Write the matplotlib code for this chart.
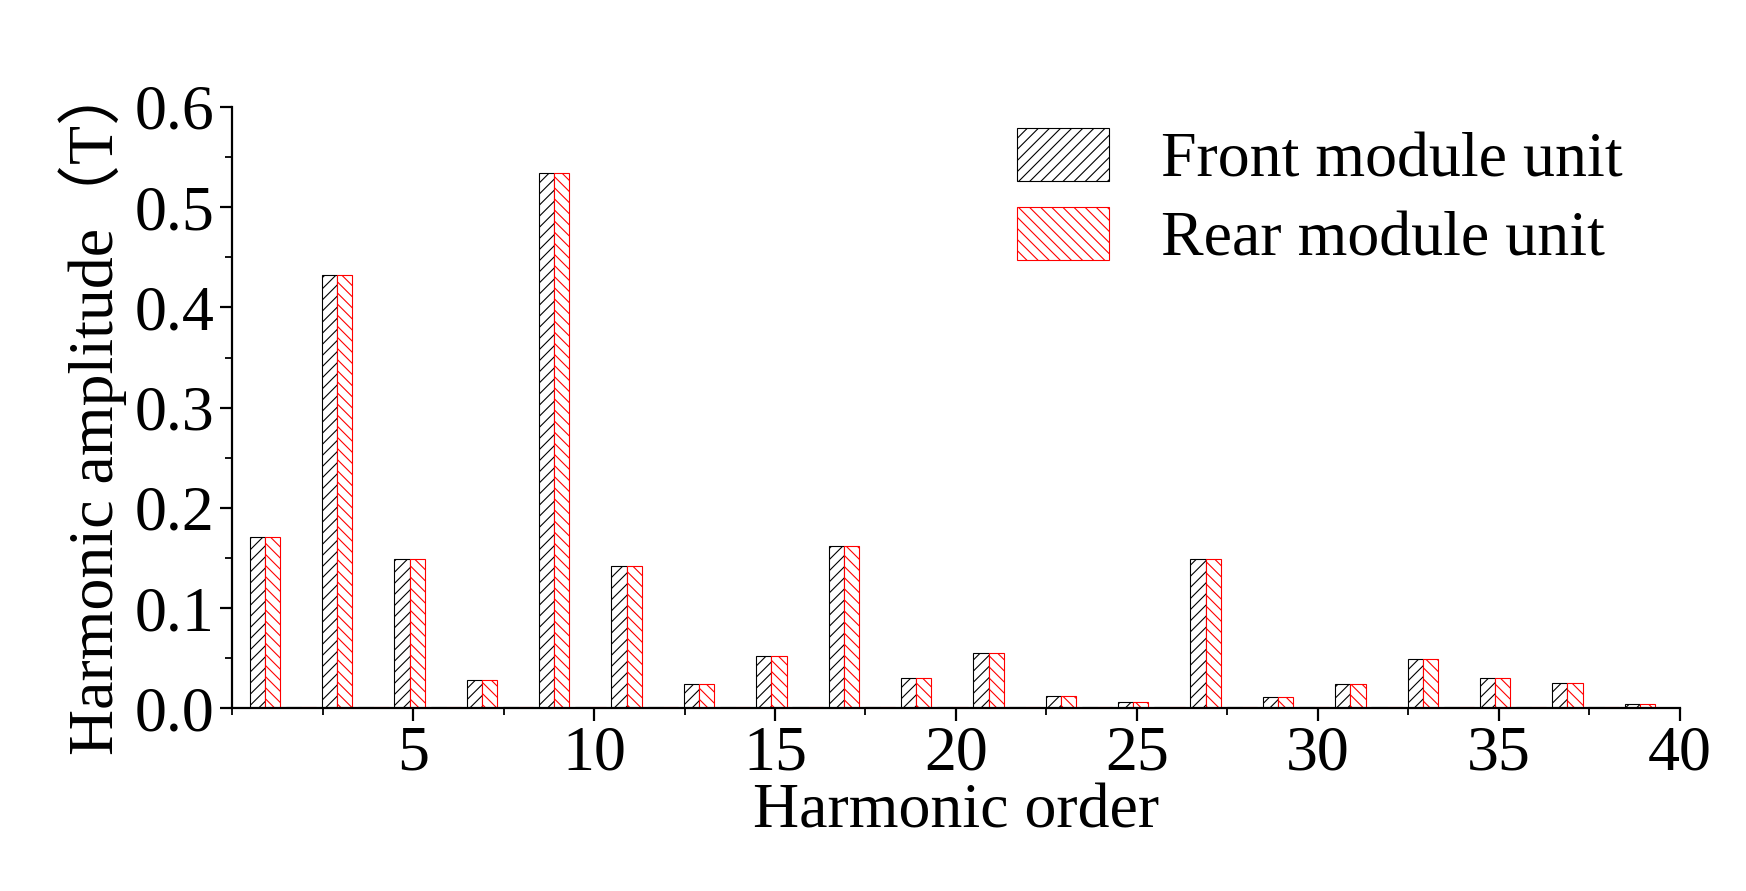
import matplotlib
matplotlib.use("Agg")
import matplotlib.pyplot as plt
import numpy as np
from matplotlib.ticker import MultipleLocator

plt.rcParams['font.family'] = ['Liberation Serif', 'DejaVu Serif']
plt.rcParams['hatch.linewidth'] = 0.8

orders = list(range(1, 40))
front = [0.171,0.001,0.432,0.001,0.149,0.001,0.028,0.001,0.534,0.001,0.142,0.001,0.024,0.001,0.052,0.001,0.162,0.001,0.030,0.001,
         0.055,0.001,0.012,0.001,0.006,0.001,0.149,0.001,0.011,0.001,0.024,0.001,0.049,0.001,0.030,0.001,0.025,0.001,0.004]
rear = list(front)

fig = plt.figure(figsize=(17.46, 8.91), dpi=100)
ax = fig.add_axes([0.133, 0.205, 0.829, 0.675])
x = np.array(orders)
w = 0.42
ax.bar(x - w/2 - 0.1, front, w, facecolor='white', edgecolor='black', hatch='///', linewidth=0.8, label='Front module unit')
ax.bar(x + w/2 - 0.1, rear, w, facecolor='white', edgecolor='red', hatch='\\\\\\', linewidth=0.8, label='Rear module unit')
ax.set_xlim(0, 40)
ax.set_ylim(0, 0.6)
ax.set_xticks([5,10,15,20,25,30,35,40])
ax.xaxis.set_minor_locator(MultipleLocator(2.5))
ax.set_yticks(np.arange(0, 0.61, 0.1))
ax.set_yticklabels(['0.0','0.1','0.2','0.3','0.4','0.5','0.6'])
ax.yaxis.set_minor_locator(MultipleLocator(0.05))
for s in ['top','right']:
    ax.spines[s].set_visible(False)
for s in ['left','bottom']:
    ax.spines[s].set_linewidth(1.6)
ax.tick_params(axis='both', which='major', labelsize=46, length=9, width=1.6, direction='out')
ax.tick_params(axis='both', which='minor', length=5, width=1.3, direction='out')
ax.set_xlabel('Harmonic order', fontsize=46, labelpad=0)
ax.set_ylabel('Harmonic amplitude\uff08T\uff09', fontsize=46, labelpad=6,
              family=['Liberation Serif','Noto Sans CJK SC'])
leg = ax.legend(loc='upper right', bbox_to_anchor=(1.0, 1.06), fontsize=46, frameon=False,
                handlelength=1.45, handleheight=0.9, handletextpad=0.8, labelspacing=0.25)
fig.savefig('out.png', dpi=100)
